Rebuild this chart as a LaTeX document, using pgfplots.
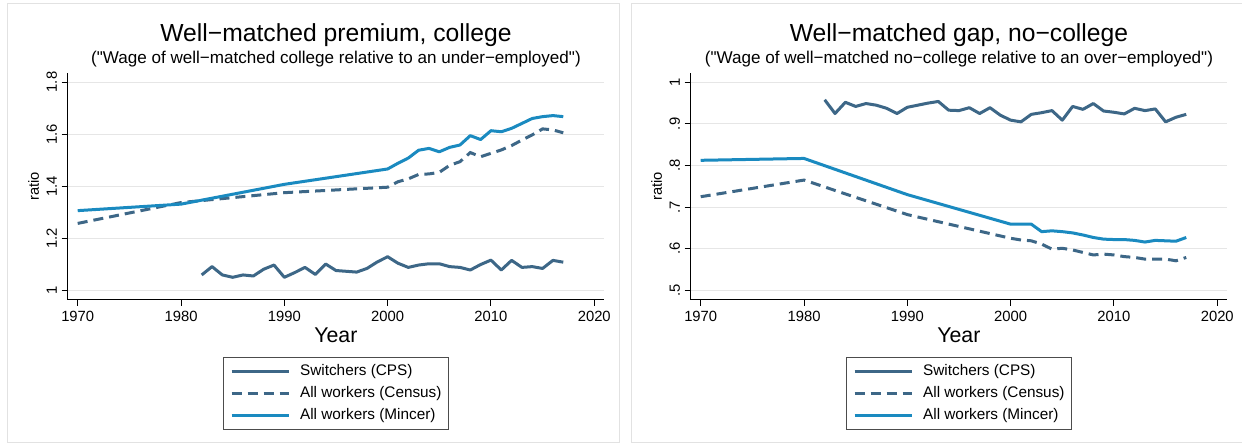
\documentclass[border=0pt]{standalone}
\usepackage{fontspec}
\setmainfont{Liberation Sans}
\usepackage{pgfplots}
\pgfplotsset{compat=1.18}
\usepackage{pgfplotstable}

\definecolor{cpsblue}{HTML}{3D6787}
\definecolor{mincerblue}{HTML}{1A8AC0}
\definecolor{gridgray}{HTML}{E6E6E6}
\definecolor{framegray}{HTML}{E2E2E2}

% ---------- College: well-matched premium ----------
\pgfplotstableread{
year ratio
1982 1.059
1983 1.091
1984 1.059
1985 1.050
1986 1.059
1987 1.055
1988 1.081
1989 1.097
1990 1.050
1991 1.068
1992 1.088
1993 1.061
1994 1.101
1995 1.076
1996 1.073
1997 1.070
1998 1.084
1999 1.109
2000 1.129
2001 1.104
2002 1.088
2003 1.097
2004 1.102
2005 1.102
2006 1.091
2007 1.088
2008 1.078
2009 1.099
2010 1.116
2011 1.078
2012 1.115
2013 1.088
2014 1.091
2015 1.084
2016 1.115
2017 1.108
}\cpsCollege

\pgfplotstableread{
year ratio
1970 1.257
1980 1.337
1990 1.375
2000 1.396
2001 1.417
2002 1.428
2003 1.445
2004 1.447
2005 1.453
2006 1.480
2007 1.494
2008 1.529
2009 1.513
2010 1.526
2011 1.539
2012 1.556
2013 1.577
2014 1.597
2015 1.620
2016 1.616
2017 1.605
}\censusCollege

\pgfplotstableread{
year ratio
1970 1.306
1980 1.331
1990 1.407
2000 1.466
2001 1.488
2002 1.508
2003 1.538
2004 1.545
2005 1.532
2006 1.549
2007 1.558
2008 1.594
2009 1.579
2010 1.613
2011 1.609
2012 1.622
2013 1.641
2014 1.660
2015 1.667
2016 1.671
2017 1.667
}\mincerCollege

% ---------- No-college: well-matched gap ----------
\pgfplotstableread{
year ratio
1982 0.958
1983 0.925
1984 0.952
1985 0.942
1986 0.949
1987 0.945
1988 0.9375
1989 0.925
1990 0.940
1991 0.945
1992 0.950
1993 0.954
1994 0.933
1995 0.932
1996 0.939
1997 0.925
1998 0.939
1999 0.921
2000 0.909
2001 0.905
2002 0.923
2003 0.927
2004 0.932
2005 0.909
2006 0.942
2007 0.935
2008 0.949
2009 0.931
2010 0.928
2011 0.924
2012 0.9375
2013 0.932
2014 0.936
2015 0.905
2016 0.916
2017 0.923
}\cpsNoCollege

\pgfplotstableread{
year ratio
1970 0.725
1980 0.765
1990 0.682
2000 0.625
2001 0.621
2002 0.619
2003 0.611
2004 0.599
2005 0.601
2006 0.597
2007 0.591
2008 0.585
2009 0.587
2010 0.585
2011 0.581
2012 0.579
2013 0.575
2014 0.575
2015 0.575
2016 0.571
2017 0.579
}\censusNoCollege

\pgfplotstableread{
year ratio
1970 0.8125
1980 0.817
1990 0.730
2000 0.659
2001 0.659
2002 0.659
2003 0.641
2004 0.643
2005 0.641
2006 0.638
2007 0.633
2008 0.627
2009 0.623
2010 0.622
2011 0.622
2012 0.620
2013 0.616
2014 0.620
2015 0.619
2016 0.618
2017 0.627
}\mincerNoCollege

\pgfplotsset{
  panel/.style={
    scale only axis, width=402.2pt, height=170.25pt, anchor=south west,
    axis x line*=bottom, axis y line*=left,
    axis line style={black, line width=0.75pt},
    tick align=outside, major tick length=4.5pt,
    tick style={black, line width=0.75pt},
    xmin=1969.03, xmax=2020.94,
    xtick={1970,1980,1990,2000,2010,2020},
    xticklabels={1970,1980,1990,2000,2010,2020},
    ymajorgrids, grid style={gridgray, line width=0.75pt},
    ticklabel style={font=\fontsize{11.1}{13}\selectfont},
    yticklabel style={rotate=90, anchor=south},
    xlabel={Year}, ylabel={ratio},
    every axis x label/.style={at={(axis description cs:0.5,0)}, yshift=-26.25pt,
      anchor=center, font=\fontsize{16}{19}\selectfont},
    every axis y label/.style={at={(axis description cs:0,0.5)}, xshift=-25.6pt,
      rotate=90, anchor=center, font=\fontsize{11}{13}\selectfont},
    legend cell align=left,
    legend style={at={(0.5,-0.2511)}, anchor=north, draw=black!70, line width=0.75pt,
      fill=white, inner xsep=5.2pt, inner ysep=5pt, row sep=5.5pt, column sep=7.5pt,
      font=\fontsize{11.5}{13}\selectfont,
      nodes={inner sep=0pt, text height=8.5pt, text depth=2.5pt}},
    legend image code/.code={
      \draw[#1] (0pt,0pt) -- (42.75pt,0pt);
    },
  },
  cps/.style={cpsblue, line width=2.25pt, line join=round},
  census/.style={cpsblue, line width=2.25pt, dash pattern=on 7.5pt off 4.5pt},
  mincer/.style={mincerblue, line width=2.25pt, line join=round},
}

\begin{document}
\begin{tikzpicture}
  \useasboundingbox[fill=white] (0pt,0pt) rectangle (931.5pt,334.5pt);
  \draw[framegray, line width=0.75pt] (5.475pt,2.25pt) rectangle (464.475pt,331.5pt);
  \draw[framegray, line width=0.75pt] (473.775pt,2.25pt) rectangle (932.775pt,331.5pt);

  % College panel
  \begin{axis}[panel, at={(50.775pt,109.5pt)},
      ymin=0.9628, ymax=1.8346,
      ytick={1,1.2,1.4,1.6,1.8}, yticklabels={1,1.2,1.4,1.6,1.8}]
    \addplot[cps] table[x=year, y=ratio] {\cpsCollege};
    \addlegendentry{Switchers (CPS)}
    \addplot[census] table[x=year, y=ratio] {\censusCollege};
    \addlegendentry{All workers (Census)}
    \addplot[mincer] table[x=year, y=ratio] {\mincerCollege};
    \addlegendentry{All workers (Mincer)}
  \end{axis}
  \node[font=\fontsize{18.5}{22}\selectfont] at (252pt,308.25pt) {Well−matched premium, college};
  \node[font=\fontsize{12.8}{15}\selectfont] at (252pt,290pt)
    {(\textquotedbl Wage of well−matched college relative to an under−employed\textquotedbl)};

  % No-college panel
  \begin{axis}[panel, at={(518.025pt,109.5pt)},
      ymin=0.4767, ymax=1.0224,
      ytick={0.5,0.6,0.7,0.8,0.9,1}, yticklabels={.5,.6,.7,.8,.9,1}]
    \addplot[cps] table[x=year, y=ratio] {\cpsNoCollege};
    \addlegendentry{Switchers (CPS)}
    \addplot[census] table[x=year, y=ratio] {\censusNoCollege};
    \addlegendentry{All workers (Census)}
    \addplot[mincer] table[x=year, y=ratio] {\mincerNoCollege};
    \addlegendentry{All workers (Mincer)}
  \end{axis}
  \node[font=\fontsize{18.5}{22}\selectfont] at (719.25pt,308.25pt) {Well−matched gap, no−college};
  \node[font=\fontsize{12.8}{15}\selectfont] at (719.25pt,290pt)
    {(\textquotedbl Wage of well−matched no−college relative to an over−employed\textquotedbl)};
\end{tikzpicture}
\end{document}
